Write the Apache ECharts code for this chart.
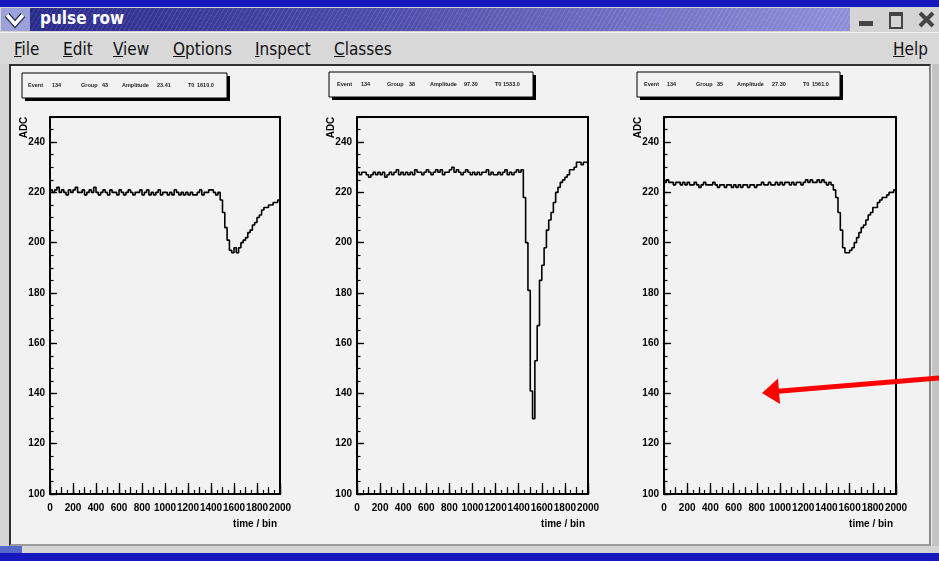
<!DOCTYPE html>
<html><head><meta charset="utf-8">
<script src="https://cdn.jsdelivr.net/npm/echarts@6/dist/echarts.min.js"></script>
<style>
html,body{margin:0;padding:0;width:939px;height:561px;overflow:hidden;background:#1717bf;}
#win{position:absolute;left:0;top:7px;width:939px;height:546px;background:#d4d4d4;}
#icon{position:absolute;left:1px;top:1px;width:29px;height:23px;background:#9aa2d8;}
#tgrad{position:absolute;left:30px;top:1px;width:820px;height:23px;
 background-image:repeating-linear-gradient(120deg,rgba(255,255,255,0.10) 0 1px,rgba(0,0,0,0) 1px 4px),linear-gradient(90deg,#2a2a8c 0%,#4a4aa8 40%,#8f8fda 100%);}
#ttext{position:absolute;left:10px;top:0px;line-height:23px;color:#fff;font:bold 17px "DejaVu Sans Condensed","DejaVu Sans",sans-serif;}
.btn{position:absolute;top:4px;width:18px;height:17px;}
#menubar{position:absolute;left:0;top:25px;width:939px;height:31px;background:#d8d8d8;border-top:1px solid #f0f0f0;}
#menubar span{position:absolute;top:6px;font:17px "DejaVu Sans Condensed","DejaVu Sans",sans-serif;color:#111;}
#cv{position:absolute;left:9px;top:57px;width:918px;height:478px;background:#f2f2f2;border-top:2px solid #303030;border-left:2px solid #303030;border-right:2px solid #888;border-bottom:2px solid #9a9a9a;}
#rside{position:absolute;left:931px;top:57px;width:8px;height:482px;background:#c4c4c4;border-left:1px solid #eee;}
#blstat{position:absolute;left:0;top:539px;width:22px;height:7px;background:#5566cc;}
#chart{position:absolute;left:0;top:0;width:939px;height:561px;}
</style></head>
<body>
<div id="win">
  <div id="icon"><svg width="29" height="23"><path d="M6 7 L14 16 L22 7" stroke="#202050" stroke-width="6" fill="none"/><path d="M6 7 L14 16 L22 7" stroke="#ffffff" stroke-width="3.5" fill="none"/></svg></div>
  <div id="tgrad"><span id="ttext">pulse row</span></div>
  <div class="btn" style="left:857px;"><div style="position:absolute;left:2px;top:10px;width:14px;height:5px;background:#444;"></div></div>
  <div class="btn" style="left:887px;"><div style="position:absolute;left:2px;top:1px;width:10px;height:11px;border:2px solid #444;border-top-width:4px;"></div></div>
  <div class="btn" style="left:917px;"><svg width="20" height="17"><path d="M3 2 L16 15 M16 2 L3 15" stroke="#444" stroke-width="4"/></svg></div>
  <div id="menubar">
    <span style="left:14px"><u>F</u>ile</span>
    <span style="left:63px"><u>E</u>dit</span>
    <span style="left:113px"><u>V</u>iew</span>
    <span style="left:173px"><u>O</u>ptions</span>
    <span style="left:255px"><u>I</u>nspect</span>
    <span style="left:334px"><u>C</u>lasses</span>
    <span style="left:893px"><u>H</u>elp</span>
  </div>
  <div id="cv"></div>
  <div id="rside"></div>
  <div id="blstat"></div>
</div>
<div id="chart"></div>
<script>
// ---- data ----
const binWidth = 20;
const xRange = [0, 2000];
const yRange = [100, 250];
const pulse1 = [
221,220,221,222,220,221,220,219,221,220,
221,222,220,220,221,219,220,221,220,222,
220,219,220,221,220,219,221,220,220,219,
221,220,219,220,221,220,219,220,220,221,
219,220,221,219,220,219,220,221,219,220,
220,219,220,219,221,220,219,220,219,220,
219,220,219,219,220,221,219,220,220,221,
221,220,219,220,
217,212,206,201,197,196,198,196,198,200,
201,202,204,205,207,208,210,211,213,214,
214,215,215,216,216,217];
const pulse2 = [
228,227,228,228,227,226,227,228,227,228,
227,228,226,227,228,227,228,229,227,228,
227,228,227,228,227,229,228,228,227,228,
229,228,227,228,229,228,229,227,228,228,
229,230,228,229,228,227,228,229,228,227,
228,227,228,227,228,228,229,227,228,227,
227,228,227,228,229,227,228,227,228,229,
228,229,
218,200,181,141,130,153,167,185,191,198,
205,209,212,216,220,222,224,225,226,227,
229,229,230,232,232,231,232,232];
const pulse3 = [
224,225,224,224,223,224,224,223,224,223,
224,223,223,224,223,222,223,224,223,223,
223,224,223,222,223,223,222,223,223,222,
223,222,223,222,223,223,222,223,223,222,
223,223,224,223,223,224,223,223,224,223,
224,223,224,224,223,224,223,224,224,223,
224,225,224,225,224,224,225,224,225,224,
223,224,223,
221,218,212,205,198,196,196,197,198,200,
202,204,206,207,209,211,212,214,214,216,
217,218,218,219,220,220,221];
const eventNo = [134, 134, 134];
const groupNo = [43, 38, 35];
const amplitude = ['23.41', '97.30', '27.30'];
const t0 = ['1610.0', '1533.0', '1561.0'];
const yTitle = 'ADC';
const xTitle = 'time / bin';
const pulses = [pulse1, pulse2, pulse3];

// ---- layout ----
const gridLeft = [50, 357, 664];
const gridWidth = [230, 231, 232];
const gridTop = 117, gridHeight = 377;
const boxes = [
  {x:22, y:73, w:205, h:25, pos:[28,52,81,102,122,157,188,197]},
  {x:329, y:72, w:204, h:25, pos:[337,361,387,409,430,464,495,503]},
  {x:637, y:72, w:203, h:25, pos:[644,667,696,717,737,772,803,812]}
];
const FONT = '"Liberation Sans", Arial, Helvetica, sans-serif';

const grids = [], xAxes = [], yAxes = [], series = [], graphic = [];
pulses.forEach((vals, i) => {
  grids.push({left: gridLeft[i], top: gridTop, width: gridWidth[i], height: gridHeight,
    show: true, borderColor: '#000', borderWidth: 2, backgroundColor: 'transparent',
    containLabel: false, outerBoundsMode: 'none'});
  const baseX = {gridIndex: i, type: 'value', min: xRange[0], max: xRange[1], position: 'bottom',
    splitLine: {show: false}};
  xAxes.push(Object.assign({}, baseX, {interval: 200,
    axisLine: {show: true, lineStyle: {color: '#000', width: 2}},
    axisTick: {show: true, inside: true, length: 11, lineStyle: {color: '#000', width: 1.3}},
    axisLabel: {show: true, margin: 9, color: '#000', fontFamily: FONT, fontWeight: 'bold', fontSize: 10,
      hideOverlap: false, showMinLabel: true, showMaxLabel: true, formatter: v => String(v)}}));
  xAxes.push(Object.assign({}, baseX, {interval: 100,
    axisLine: {show: false}, axisLabel: {show: false},
    axisTick: {show: true, inside: true, length: 7, lineStyle: {color: '#000', width: 1.2}}}));
  xAxes.push(Object.assign({}, baseX, {interval: 50,
    axisLine: {show: false}, axisLabel: {show: false},
    axisTick: {show: true, inside: true, length: 4, lineStyle: {color: '#000', width: 1.2}}}));
  const baseY = {gridIndex: i, type: 'value', min: yRange[0], max: yRange[1], position: 'left',
    splitLine: {show: false}};
  yAxes.push(Object.assign({}, baseY, {interval: 20,
    axisLine: {show: true, lineStyle: {color: '#000', width: 2}},
    axisTick: {show: true, inside: true, length: 7, lineStyle: {color: '#000', width: 1.3}},
    axisLabel: {show: true, margin: 5, showMinLabel: true, showMaxLabel: false, color: '#000', fontFamily: FONT, fontWeight: 'bold', fontSize: 10,
      formatter: v => String(v)}}));
  yAxes.push(Object.assign({}, baseY, {interval: 5,
    axisLine: {show: false}, axisLabel: {show: false},
    axisTick: {show: true, inside: true, length: 3.5, lineStyle: {color: '#000', width: 1.2}}}));
  const data = vals.map((v, k) => [k * binWidth, v]);
  data.push([vals.length * binWidth, vals[vals.length - 1]]);
  series.push({type: 'line', xAxisIndex: 3 * i, yAxisIndex: 2 * i, step: 'end', data: data,
    symbol: 'none', showSymbol: false, silent: true,
    lineStyle: {color: '#000', width: 1.6}});

  // stats box
  const b = boxes[i];
  graphic.push({type: 'rect', shape: {x: b.x + 3, y: b.y + 3, width: b.w, height: b.h}, style: {fill: '#000'}, z: 10});
  graphic.push({type: 'rect', shape: {x: b.x, y: b.y, width: b.w, height: b.h}, style: {fill: '#f2f2f2', stroke: '#000', lineWidth: 1}, z: 11});
  const words = ['Event', String(eventNo[i]), 'Group', String(groupNo[i]), 'Amplitude', amplitude[i], 'T0', t0[i]];
  words.forEach((w, k) => {
    graphic.push({type: 'text', x: b.pos[k], y: b.y + 12, z: 12,
      style: {text: w, fill: '#222', font: 'bold 5.5px ' + FONT, verticalAlign: 'middle', align: 'left'}});
  });
  // axis titles
  graphic.push({type: 'text', x: gridLeft[i] - 26, y: 127.5, rotation: Math.PI / 2, z: 12,
    style: {text: yTitle, fill: '#000', font: 'bold 10px ' + FONT, align: 'center', verticalAlign: 'middle'}});
  graphic.push({type: 'text', x: gridLeft[i] + gridWidth[i] - 3, y: 524, z: 12,
    style: {text: xTitle, fill: '#000', font: 'bold 10px ' + FONT, align: 'right', verticalAlign: 'middle'}});
});

// red arrow annotation
graphic.push({type: 'polyline', z: 50, shape: {points: [[940, 378], [775, 391.5]]},
  style: {stroke: '#ff0000', lineWidth: 5, fill: null}});
graphic.push({type: 'polygon', z: 51, shape: {points: [[762, 393], [778, 378.5], [780, 404]]},
  style: {fill: '#ff0000'}});

const chart = echarts.init(document.getElementById('chart'), null, {renderer: 'canvas'});
chart.setOption({
  backgroundColor: 'transparent',
  animation: false,
  grid: grids,
  xAxis: xAxes,
  yAxis: yAxes,
  series: series,
  graphic: graphic
});
</script>
</body></html>
